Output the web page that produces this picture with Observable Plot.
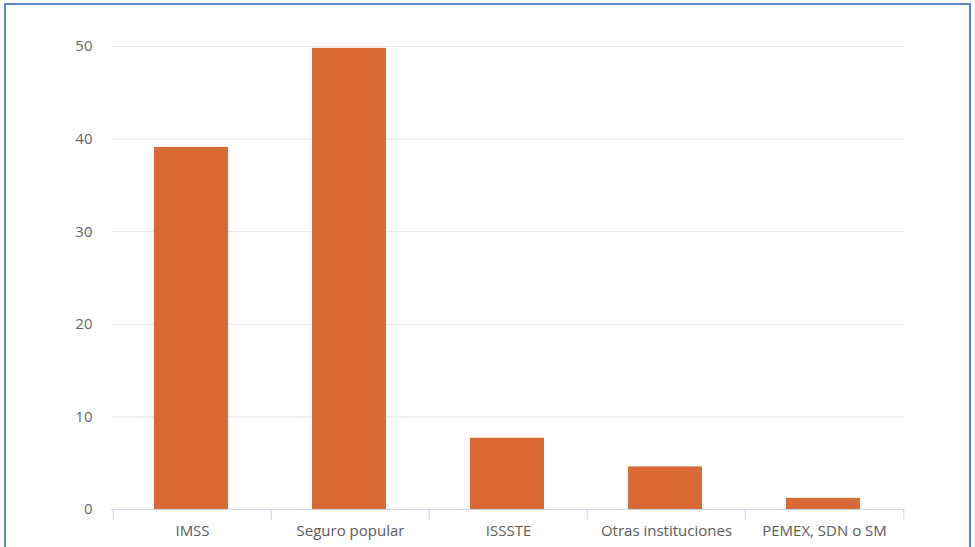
<!DOCTYPE html>
<html>
<head>
<meta charset="utf-8">
<script src="https://cdn.jsdelivr.net/npm/d3@7"></script>
<script src="https://cdn.jsdelivr.net/npm/@observablehq/plot@0.6"></script>
<style>
  html, body { margin: 0; padding: 0; background: #fff; }
  #wrap { position: relative; width: 975px; height: 547px; overflow: hidden; }
  #frame { position: absolute; left: 4px; top: 3px; width: 963px; height: 600px; border: 2px solid #5a86c3; pointer-events: none; }
  #chart { position: absolute; left: 0; top: 0; }
</style>
</head>
<body>
<div id="wrap"><div id="chart"></div><div id="frame"></div></div>
<script>
const categories = ["IMSS", "Seguro popular", "ISSSTE", "Otras instituciones", "PEMEX, SDN o SM"];
const values = [39.1, 49.8, 7.7, 4.6, 1.2];
const yTicks = [0, 10, 20, 30, 40, 50];

const data = categories.map((c, i) => ({category: c, value: values[i]}));

const width = 975, height = 547;
const marginLeft = 111, marginRight = 71, marginTop = 46, marginBottom = 38;
const step = (width - marginLeft - marginRight) / categories.length;

const font = "'Open Sans', sans-serif";

const chart = Plot.plot({
  width, height, marginLeft, marginRight, marginTop, marginBottom,
  style: {fontFamily: font, fontSize: "15px", color: "#666", background: "transparent"},
  x: {domain: categories, padding: 0},
  y: {domain: [0, 50]},
  marks: [
    Plot.gridY(yTicks.filter(d => d > 0), {stroke: "#e6e6e6", strokeOpacity: 1}),
    Plot.barY(data, {x: "category", y: "value", fill: "#d96a36", insetLeft: 41, insetRight: 43}),
    Plot.ruleY([0], {stroke: "#ccd6eb"}),
    Plot.ruleX(categories, {x: d => d, dx: -step / 2, y1: 0, y2: 0, insetBottom: -11, stroke: "#ccd6eb"}),
    Plot.ruleX(categories.slice(-1), {x: d => d, dx: step / 2, y1: 0, y2: 0, insetBottom: -11, stroke: "#ccd6eb"}),
    Plot.axisY(yTicks, {tickSize: 0, tickPadding: 19, label: null, fontSize: 15, fill: "#666"}),
    Plot.axisX({tickSize: 0, tickPadding: 16, label: null, fontSize: 15, fill: "#5a5a5a"})
  ]
});
document.getElementById("chart").appendChild(chart);
</script>
</body>
</html>
